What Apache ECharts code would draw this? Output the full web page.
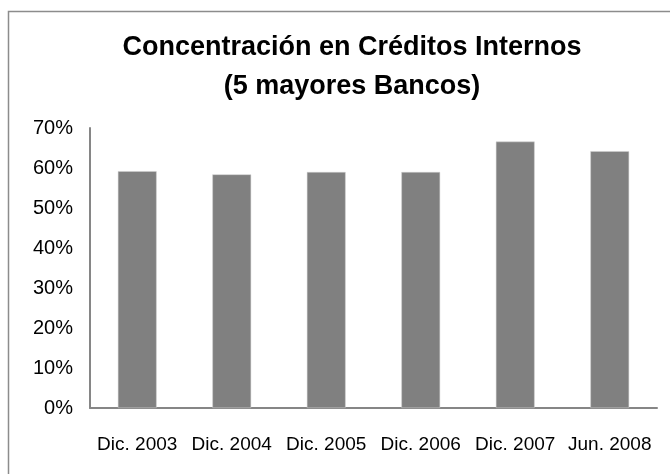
<!DOCTYPE html>
<html>
<head>
<meta charset="utf-8">
<script src="https://cdn.jsdelivr.net/npm/echarts@6/dist/echarts.min.js"></script>
<style>html,body{margin:0;padding:0;background:#fff}#c{width:670px;height:474px}</style>
</head>
<body>
<div id="c"></div>
<script>
const categories = ['Dic. 2003', 'Dic. 2004', 'Dic. 2005', 'Dic. 2006', 'Dic. 2007', 'Jun. 2008'];
const values = [59.2, 58.4, 59.0, 59.0, 66.6, 64.2];
const yTicks = [0, 10, 20, 30, 40, 50, 60, 70];
const titleText = 'Concentración en Créditos Internos\n(5 mayores Bancos)';

const chart = echarts.init(document.getElementById('c'), null, {renderer: 'canvas'});
chart.setOption({
  animation: false,
  backgroundColor: '#fff',
  title: {
    text: titleText,
    left: 347,
    textAlign: 'center',
    top: 23,
    textStyle: {
      fontFamily: '"Liberation Sans", Arial, sans-serif',
      fontWeight: 'bold',
      fontSize: 27,
      lineHeight: 39,
      color: '#000'
    }
  },
  graphic: [{
    type: 'rect',
    shape: {x: 8.5, y: 11.5, width: 700, height: 500},
    style: {fill: 'none', stroke: '#8c8c8c', lineWidth: 1.5},
    silent: true
  }],
  grid: {left: 90, right: 13, top: 128, bottom: 66, containLabel: false},
  xAxis: {
    type: 'category',
    data: categories,
    axisLine: {lineStyle: {color: '#868686', width: 2}},
    axisTick: {show: false},
    axisLabel: {
      fontFamily: '"Liberation Sans", Arial, sans-serif',
      fontSize: 19,
      color: '#000',
      margin: 27,
      interval: 0
    }
  },
  yAxis: {
    type: 'value',
    min: yTicks[0],
    max: yTicks[yTicks.length - 1],
    interval: 10,
    splitLine: {show: false},
    axisLine: {show: true, lineStyle: {color: '#868686', width: 2}},
    axisTick: {show: false},
    axisLabel: {
      formatter: v => v + '%',
      fontFamily: '"Liberation Sans", Arial, sans-serif',
      fontSize: 20,
      color: '#000',
      margin: 17
    }
  },
  series: [{
    type: 'bar',
    data: values,
    barCategoryGap: '59%',
    itemStyle: {color: '#808080', borderColor: '#d0d0d0', borderWidth: 0.5}
  }]
});
</script>
</body>
</html>
